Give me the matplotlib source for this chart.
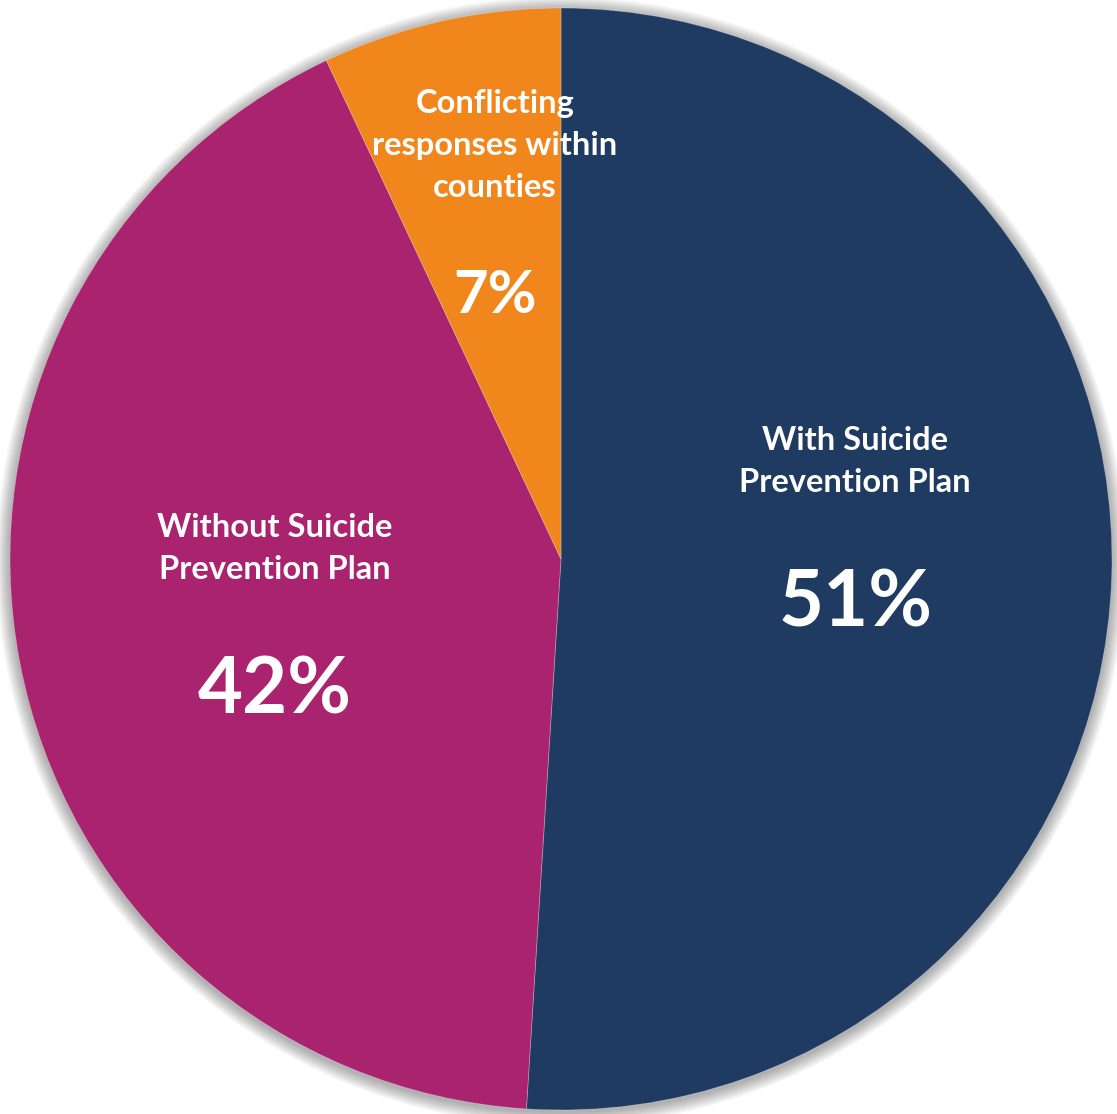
import matplotlib
matplotlib.use("Agg")
import matplotlib.pyplot as plt
from matplotlib.patches import Circle

categories = ["With Suicide\nPrevention Plan", "Without Suicide\nPrevention Plan",
              "Conflicting\nresponses within\ncounties"]
values = [51, 42, 7]
colors = ["#1F3B61", "#A9236F", "#F0861C"]

W, H = 1117, 1114
fig = plt.figure(figsize=(W / 100, H / 100), dpi=100)
ax = fig.add_axes([0, 0, 1, 1])
s = 551.0
cx, cy = 561.0, 559.0
ax.set_xlim(-cx / s, (W - cx) / s)
ax.set_ylim(-(H - cy) / s, cy / s)
ax.set_aspect("equal")
ax.axis("off")

# soft shadow
for i in range(14):
    r = 1.0 + 0.0018 * (14 - i)
    ax.add_patch(Circle((0, -0.004), r, facecolor="black", alpha=0.022, lw=0, zorder=0))

wedges, _ = ax.pie(values, colors=colors, startangle=90, counterclock=False,
                   radius=1.0, center=(0, 0),
                   wedgeprops=dict(linewidth=0.6, edgecolor=(1, 1, 1, 0.3)))
for w in wedges:
    w.set_zorder(2)
ax.set_xlim(-cx / s, (W - cx) / s)
ax.set_ylim(-(H - cy) / s, cy / s)

font = "Lato"
name_pos = [(0.534, 0.177), (-0.519, 0.019), (-0.120, 0.750)]
pct_pos = [(0.534, -0.1234), (-0.519, -0.2795), (-0.120, 0.4465)]
pct_size = [56, 56, 43]
for cat, v, (nx, ny), (px, py), ps in zip(categories, values, name_pos, pct_pos, pct_size):
    ax.text(nx, ny, cat, ha="center", va="center", multialignment="center",
            color="white", fontsize=23.5, fontweight="bold", family=font,
            linespacing=1.55, zorder=5)
    ax.text(px, py, f"{v}%", ha="center", va="baseline", color="white",
            fontsize=ps, fontweight="bold", family=font, zorder=5)

fig.savefig("out.png", dpi=100, facecolor="white")
